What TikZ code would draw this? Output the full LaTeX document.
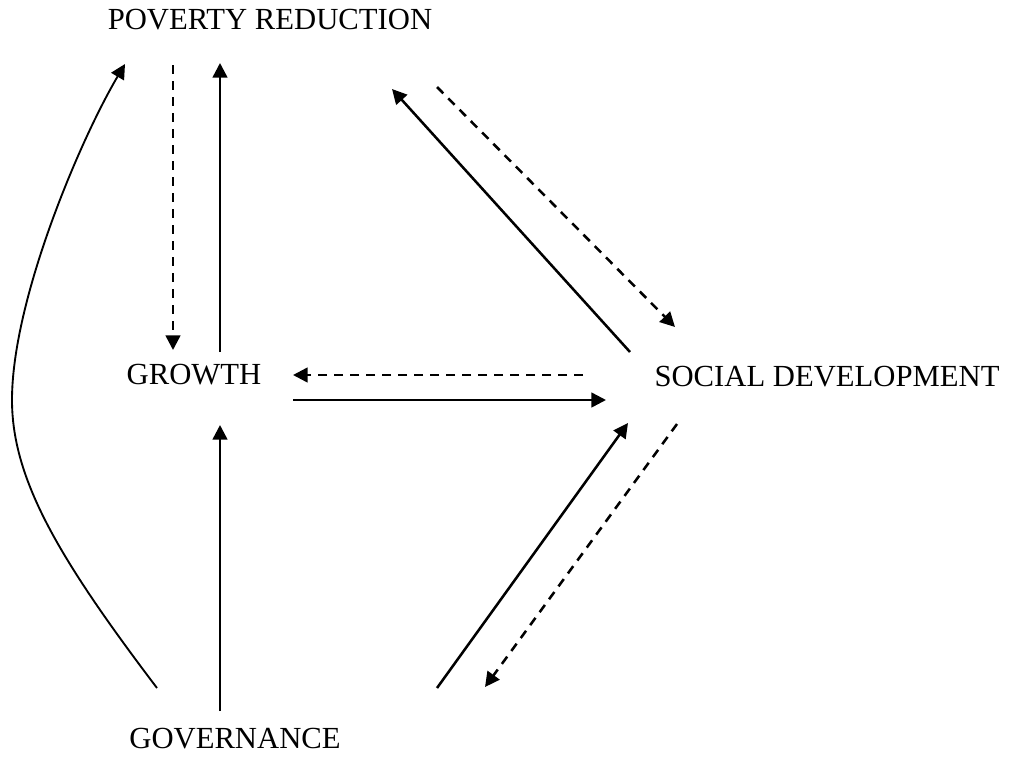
\documentclass[tikz,border=0pt]{standalone}
\usepackage{fontspec}
\setmainfont{Liberation Serif}
\usetikzlibrary{calc}
\usetikzlibrary{arrows.meta}
\usetikzlibrary{positioning}

\begin{document}
\begin{tikzpicture}[x=0.75pt,y=-0.75pt,>={Triangle[length=11pt,width=11pt]}]
  \tikzstyle{label}=[font=\fontsize{23}{27}\selectfont,inner sep=0pt]
  \tikzstyle{link}=[->,line width=1.9pt]
  \tikzstyle{back}=[->,line width=1.9pt,dash pattern=on 6.75pt off 5.25pt]
  \useasboundingbox (0,0) rectangle (1023,761);
  % the four themes
  \node[label] (pov) at (270,20) {POVERTY REDUCTION};
  \node[label] (grow) at (194,375) {GROWTH};
  \node[label] (soc) at (827,377) {SOCIAL DEVELOPMENT};
  \node[label] (gov) at (235,739) {GOVERNANCE};
  % growth and poverty reduction
  \draw[back] ($(pov)+(-97,45)$) -- ($(grow)+(-21,-25)$);
  \draw[link] ($(grow)+(26,-23)$) -- ($(pov)+(-50,43)$);
  \draw[link] ($(gov)+(-15,-28)$) -- ($(grow)+(26,50)$);
  % growth and social development
  \draw[back] ($(soc)+(-244,-2)$) -- ($(grow)+(99,0)$);
  \draw[link] ($(grow)+(99,25)$) -- ($(soc)+(-221,23)$);
  % social development and the others
  \draw[link] ($(soc)+(-197,-25)$) -- ($(pov)+(122,69)$);
  \draw[back] ($(pov)+(167,67)$) -- ($(soc)+(-152,-50)$);
  \draw[link] ($(gov)+(202,-51)$) -- ($(soc)+(-199,46)$);
  \draw[back] ($(soc)+(-150,47)$) -- ($(gov)+(250,-52)$);
  % long way round from governance
  \coordinate (bend) at (12,400);
  \draw[->,line width=1.4pt] ($(gov)+(-78,-51)$) .. controls (60,560) and (12,480) .. (bend)
    .. controls (12,300) and (80,140) .. ($(pov)+(-145,44)$);
\end{tikzpicture}
\end{document}
